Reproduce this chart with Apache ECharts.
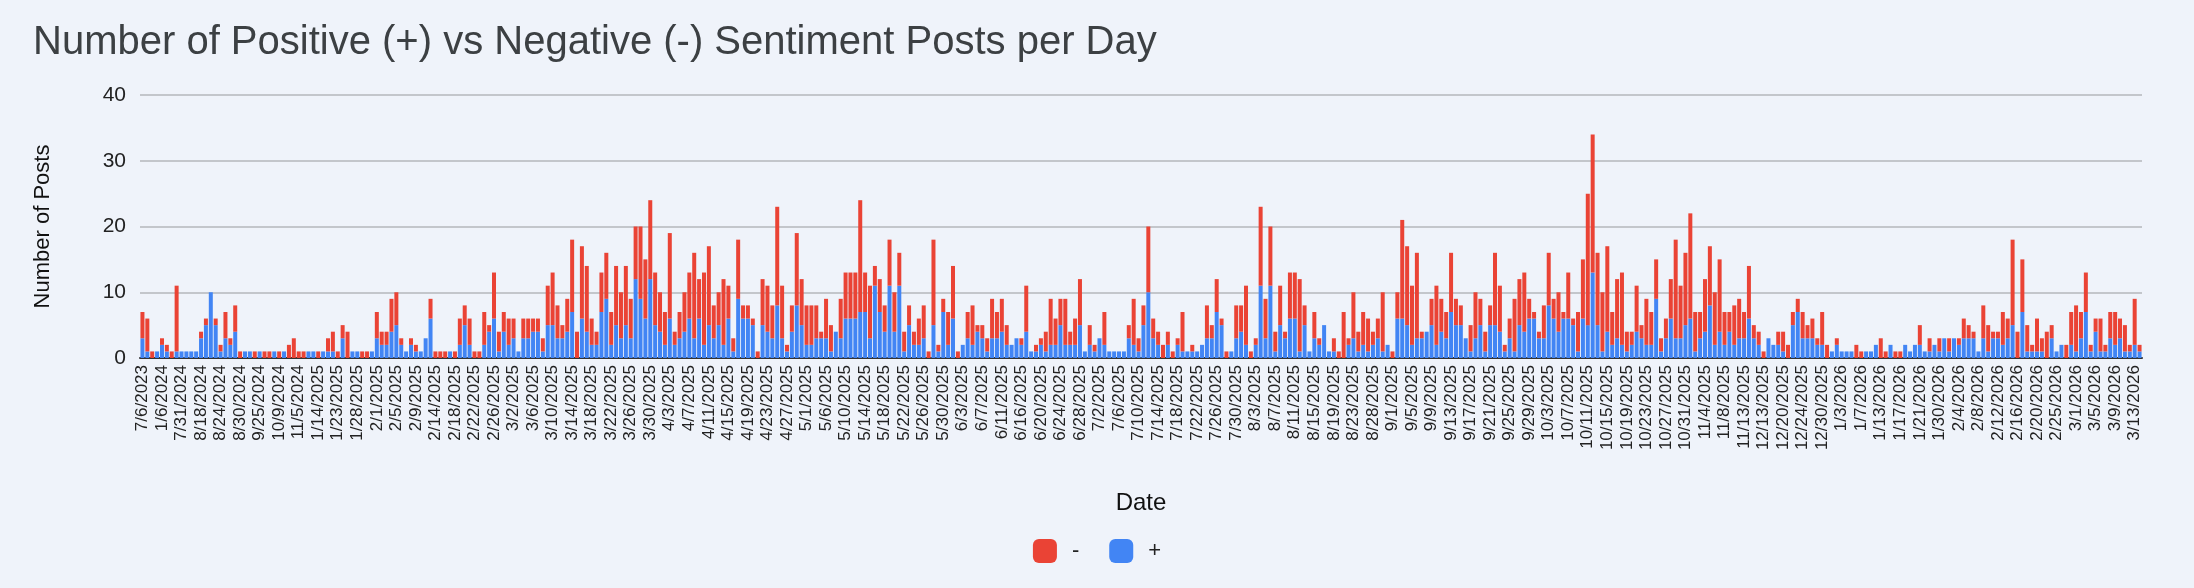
<!DOCTYPE html>
<html>
<head>
<meta charset="utf-8">
<script src="https://cdn.jsdelivr.net/npm/echarts@6/dist/echarts.min.js"></script>
<style>
  html, body { margin: 0; padding: 0; background: #eff3fa; }
  #chart { width: 2194px; height: 588px; }
</style>
</head>
<body>
<div id="chart"></div>
<script>
// dates (one bar per day that had posts)
var dates = [
  '7/6/2023','7/7/2023','9/12/2023','11/20/2023','1/6/2024','2/14/2024','4/3/2024','6/18/2024','7/31/2024','8/5/2024',
  '8/9/2024','8/14/2024','8/18/2024','8/20/2024','8/21/2024','8/22/2024','8/24/2024','8/26/2024','8/27/2024','8/28/2024',
  '8/30/2024','9/4/2024','9/11/2024','9/18/2024','9/25/2024','9/30/2024','10/2/2024','10/7/2024','10/9/2024','10/16/2024',
  '10/23/2024','10/30/2024','11/5/2024','11/19/2024','12/10/2024','1/7/2025','1/14/2025','1/16/2025','1/20/2025','1/21/2025',
  '1/23/2025','1/24/2025','1/26/2025','1/27/2025','1/28/2025','1/29/2025','1/30/2025','1/31/2025','2/1/2025','2/2/2025',
  '2/3/2025','2/4/2025','2/5/2025','2/6/2025','2/7/2025','2/8/2025','2/9/2025','2/10/2025','2/11/2025','2/13/2025',
  '2/14/2025','2/15/2025','2/16/2025','2/17/2025','2/18/2025','2/19/2025','2/20/2025','2/21/2025','2/22/2025','2/23/2025',
  '2/24/2025','2/25/2025','2/26/2025','2/27/2025','2/28/2025','3/1/2025','3/2/2025','3/3/2025','3/4/2025','3/5/2025',
  '3/6/2025','3/7/2025','3/8/2025','3/9/2025','3/10/2025','3/11/2025','3/12/2025','3/13/2025','3/14/2025','3/15/2025',
  '3/16/2025','3/17/2025','3/18/2025','3/19/2025','3/20/2025','3/21/2025','3/22/2025','3/23/2025','3/24/2025','3/25/2025',
  '3/26/2025','3/27/2025','3/28/2025','3/29/2025','3/30/2025','3/31/2025','4/1/2025','4/2/2025','4/3/2025','4/4/2025',
  '4/5/2025','4/6/2025','4/7/2025','4/8/2025','4/9/2025','4/10/2025','4/11/2025','4/12/2025','4/13/2025','4/14/2025',
  '4/15/2025','4/16/2025','4/17/2025','4/18/2025','4/19/2025','4/20/2025','4/21/2025','4/22/2025','4/23/2025','4/24/2025',
  '4/25/2025','4/26/2025','4/27/2025','4/28/2025','4/29/2025','4/30/2025','5/1/2025','5/2/2025','5/3/2025','5/5/2025',
  '5/6/2025','5/7/2025','5/8/2025','5/9/2025','5/10/2025','5/11/2025','5/12/2025','5/13/2025','5/14/2025','5/15/2025',
  '5/16/2025','5/17/2025','5/18/2025','5/19/2025','5/20/2025','5/21/2025','5/22/2025','5/23/2025','5/24/2025','5/25/2025',
  '5/26/2025','5/27/2025','5/28/2025','5/29/2025','5/30/2025','5/31/2025','6/1/2025','6/2/2025','6/3/2025','6/4/2025',
  '6/5/2025','6/6/2025','6/7/2025','6/8/2025','6/9/2025','6/10/2025','6/11/2025','6/12/2025','6/13/2025','6/15/2025',
  '6/16/2025','6/17/2025','6/18/2025','6/19/2025','6/20/2025','6/21/2025','6/22/2025','6/23/2025','6/24/2025','6/25/2025',
  '6/26/2025','6/27/2025','6/28/2025','6/29/2025','6/30/2025','7/1/2025','7/2/2025','7/3/2025','7/4/2025','7/5/2025',
  '7/6/2025','7/7/2025','7/8/2025','7/9/2025','7/10/2025','7/11/2025','7/12/2025','7/13/2025','7/14/2025','7/15/2025',
  '7/16/2025','7/17/2025','7/18/2025','7/19/2025','7/20/2025','7/21/2025','7/22/2025','7/23/2025','7/24/2025','7/25/2025',
  '7/26/2025','7/27/2025','7/28/2025','7/29/2025','7/30/2025','7/31/2025','8/1/2025','8/2/2025','8/3/2025','8/4/2025',
  '8/5/2025','8/6/2025','8/7/2025','8/8/2025','8/9/2025','8/10/2025','8/11/2025','8/12/2025','8/13/2025','8/14/2025',
  '8/15/2025','8/16/2025','8/17/2025','8/18/2025','8/19/2025','8/20/2025','8/21/2025','8/22/2025','8/23/2025','8/24/2025',
  '8/25/2025','8/27/2025','8/28/2025','8/29/2025','8/30/2025','8/31/2025','9/1/2025','9/2/2025','9/3/2025','9/4/2025',
  '9/5/2025','9/6/2025','9/7/2025','9/8/2025','9/9/2025','9/10/2025','9/11/2025','9/12/2025','9/13/2025','9/14/2025',
  '9/15/2025','9/16/2025','9/17/2025','9/18/2025','9/19/2025','9/20/2025','9/21/2025','9/22/2025','9/23/2025','9/24/2025',
  '9/25/2025','9/26/2025','9/27/2025','9/28/2025','9/29/2025','9/30/2025','10/1/2025','10/2/2025','10/3/2025','10/4/2025',
  '10/5/2025','10/6/2025','10/7/2025','10/8/2025','10/9/2025','10/10/2025','10/11/2025','10/12/2025','10/13/2025','10/14/2025',
  '10/15/2025','10/16/2025','10/17/2025','10/18/2025','10/19/2025','10/20/2025','10/21/2025','10/22/2025','10/23/2025','10/24/2025',
  '10/25/2025','10/26/2025','10/27/2025','10/28/2025','10/29/2025','10/30/2025','10/31/2025','11/1/2025','11/2/2025','11/3/2025',
  '11/4/2025','11/5/2025','11/6/2025','11/7/2025','11/8/2025','11/9/2025','11/10/2025','11/12/2025','11/13/2025','11/14/2025',
  '11/17/2025','12/5/2025','12/13/2025','12/15/2025','12/17/2025','12/18/2025','12/20/2025','12/21/2025','12/22/2025','12/23/2025',
  '12/24/2025','12/26/2025','12/27/2025','12/29/2025','12/30/2025','12/31/2025','1/1/2026','1/2/2026','1/3/2026','1/4/2026',
  '1/5/2026','1/6/2026','1/7/2026','1/9/2026','1/10/2026','1/12/2026','1/13/2026','1/14/2026','1/15/2026','1/16/2026',
  '1/17/2026','1/18/2026','1/19/2026','1/20/2026','1/21/2026','1/23/2026','1/26/2026','1/28/2026','1/30/2026','2/1/2026',
  '2/2/2026','2/3/2026','2/4/2026','2/5/2026','2/6/2026','2/7/2026','2/8/2026','2/9/2026','2/10/2026','2/11/2026',
  '2/12/2026','2/13/2026','2/14/2026','2/15/2026','2/16/2026','2/17/2026','2/18/2026','2/19/2026','2/20/2026','2/21/2026',
  '2/23/2026','2/24/2026','2/25/2026','2/26/2026','2/27/2026','2/28/2026','3/1/2026','3/2/2026','3/3/2026','3/4/2026',
  '3/5/2026','3/6/2026','3/7/2026','3/8/2026','3/9/2026','3/10/2026','3/11/2026','3/12/2026','3/13/2026','3/14/2026'
];

// "+" posts per day (blue, bottom of stack)
var positive = [
  3,1,0,1,2,1,0,1,1,1,  1,1,3,5,10,5,1,3,2,4,  0,1,1,0,1,0,0,1,0,1,  0,0,0,0,1,1,0,1,1,1,
  0,3,0,1,1,0,0,1,3,2,  2,4,5,2,1,2,1,1,3,6,  0,0,0,1,0,2,5,2,0,0,  2,4,6,1,4,2,3,1,3,3,
  4,4,1,5,5,3,3,4,7,0,  6,4,2,2,7,9,2,5,3,5,  3,12,9,6,12,5,4,2,6,2,  3,4,6,3,6,2,5,3,5,2,
  6,1,9,6,6,5,0,5,4,3,  8,3,1,4,8,5,2,2,3,3,  3,1,4,3,6,6,6,7,7,3,  11,7,4,11,4,11,1,5,2,2,
  3,0,5,1,7,2,6,0,2,3,  2,4,3,1,3,3,4,2,2,3,  2,4,1,1,2,1,2,2,5,2,  2,2,5,1,2,1,3,2,1,1,
  1,1,3,2,1,5,10,3,2,0,  2,0,2,1,1,1,1,2,3,3,  7,5,0,1,3,4,2,0,2,11,  3,11,1,5,3,6,6,1,5,1,
  3,2,5,1,1,0,0,2,3,1,  2,1,2,3,1,2,0,6,6,5,  2,3,3,4,5,2,4,3,7,5,  5,3,1,3,5,1,5,5,4,1,
  3,1,5,4,6,6,3,3,8,6,  4,6,6,5,1,6,5,13,5,1,  4,2,3,2,1,2,4,3,2,2,  9,1,3,6,3,3,5,6,1,3,
  4,8,2,4,2,4,2,3,3,6,  3,2,0,3,2,2,1,0,5,7,  3,3,3,2,2,0,1,2,1,1,  1,0,0,1,1,2,0,0,2,0,
  0,2,1,2,2,1,1,2,1,3,  1,3,2,3,3,3,1,3,1,3,  3,2,3,5,0,7,1,1,1,1,  0,3,1,2,0,2,1,3,7,1,
  4,1,1,3,2,3,1,1,2,1
];

// "-" posts per day (red, top of stack)
var negative = [
  4,5,1,0,1,1,1,10,0,0,  0,0,1,1,0,1,1,4,1,4,  1,0,0,1,0,1,1,0,1,0,  2,3,1,1,0,0,1,0,2,3,
  1,2,4,0,0,1,1,0,4,2,  2,5,5,1,0,1,1,0,0,3,  1,1,1,0,1,4,3,4,1,1,  5,1,7,3,3,4,3,0,3,3,
  2,2,2,6,8,5,2,5,11,4,  11,10,4,2,6,7,5,9,7,9,  6,8,11,9,12,8,6,5,13,2,  4,6,7,13,6,11,12,5,5,10,
  5,2,9,2,2,1,1,7,7,5,  15,8,1,4,11,7,6,6,5,1,  6,4,0,6,7,7,7,17,6,8,  3,5,4,7,6,5,3,3,2,4,
  5,1,13,1,2,5,8,1,0,4,  6,1,2,2,6,4,5,3,0,0,  1,7,0,1,1,3,7,4,4,7,  2,4,7,0,3,1,0,5,0,0,
  0,0,2,7,2,3,10,3,2,2,  2,1,1,6,0,1,0,0,5,2,  5,1,1,0,5,4,9,1,1,12,  6,9,3,6,1,7,7,11,3,0,
  4,1,0,0,2,1,7,1,7,3,  5,5,2,3,9,0,1,4,15,12,  9,13,1,0,4,9,5,4,9,4,  3,0,4,7,4,3,3,11,7,1,
  3,8,7,9,3,1,1,5,8,3,  6,1,7,1,6,9,20,21,11,9,  13,5,9,11,3,2,7,2,7,5,  6,2,3,6,15,8,11,16,6,4,
  8,9,8,11,5,3,6,6,4,8,  2,2,1,0,0,2,3,2,2,2,  4,2,3,1,5,2,0,1,0,0,  0,2,1,0,0,0,3,1,0,1,
  1,0,0,0,3,0,2,0,2,0,  2,0,1,3,2,1,0,5,4,1,  1,5,3,13,4,8,4,1,5,2,  4,2,0,0,2,5,7,4,6,1,
  2,5,1,4,5,3,4,1,7,1
];

var chart = echarts.init(document.getElementById('chart'), null, { renderer: 'canvas' });

var option = {
  backgroundColor: '#eff3fa',
  animation: false,
  textStyle: { fontFamily: 'Liberation Sans, Arial, sans-serif' },
  title: {
    text: 'Number of Positive (+) vs Negative (-) Sentiment Posts per Day',
    left: 28,
    top: 18,
    textStyle: { fontSize: 40, fontWeight: 'normal', color: '#3c4043' }
  },
  legend: {
    data: ['-', '+'],
    left: 'center',
    top: 534,
    itemWidth: 24,
    itemHeight: 24,
    itemGap: 30,
    icon: 'roundRect',
    textStyle: { fontSize: 22, color: '#222', padding: [0, 0, 0, 10] }
  },
  grid: { left: 140, right: 52, top: 95, height: 263 },
  xAxis: {
    type: 'category',
    data: dates,
    name: 'Date',
    nameLocation: 'middle',
    nameGap: 133,
    nameTextStyle: { fontSize: 24, color: '#111' },
    axisLine: { lineStyle: { color: '#333', width: 2 } },
    axisTick: { show: false },
    axisLabel: { interval: 3, rotate: 90, fontSize: 17, color: '#222', margin: 7 }
  },
  yAxis: {
    type: 'value',
    min: 0,
    max: 40,
    interval: 10,
    name: 'Number of Posts',
    nameLocation: 'middle',
    nameGap: 86,
    nameTextStyle: { fontSize: 22, color: '#111' },
    axisLabel: { fontSize: 21, color: '#222', margin: 14 },
    splitLine: { lineStyle: { color: '#c3c6cb', width: 2 } }
  },
  series: [
    {
      name: '+',
      type: 'bar',
      stack: 'posts',
      data: positive,
      barCategoryGap: '18%',
      itemStyle: { color: '#4285f4' }
    },
    {
      name: '-',
      type: 'bar',
      stack: 'posts',
      data: negative,
      barCategoryGap: '18%',
      itemStyle: { color: '#ea4335' }
    }
  ]
};

chart.setOption(option);
</script>
</body>
</html>
